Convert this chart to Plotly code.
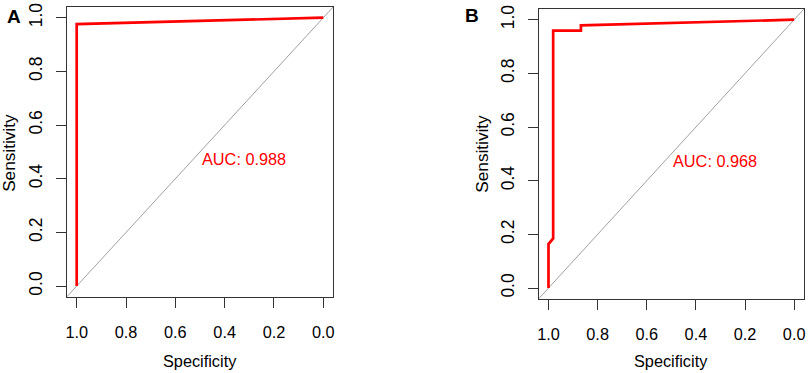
import plotly.graph_objects as go

# ---- data ----
spec_a = [1.0, 1.0, 0.0]
sens_a = [0.0, 0.976, 1.0]
spec_b = [1.0, 1.0, 0.981, 0.981, 0.868, 0.868, 0.0]
sens_b = [0.0, 0.164, 0.185, 0.959, 0.959, 0.979, 1.0]
auc_labels = ["AUC: 0.988", "AUC: 0.968"]
panel_labels = ["A", "B"]
tick_vals = [0.0, 0.2, 0.4, 0.6, 0.8, 1.0]
tick_text = ["0.0", "0.2", "0.4", "0.6", "0.8", "1.0"]
diag_x = [1.04, -0.04]

W, H = 809, 373
FONT = "Liberation Sans, Arial, sans-serif"
AX = "#333333"

fig = go.Figure()

for i, (sx, sy) in enumerate([(spec_a, sens_a), (spec_b, sens_b)]):
    xa = "x" if i == 0 else "x2"
    ya = "y" if i == 0 else "y2"
    fig.add_trace(go.Scatter(x=diag_x, y=[1 - v for v in diag_x], mode="lines",
                             line=dict(color="#a0a0a0", width=1), xaxis=xa, yaxis=ya,
                             showlegend=False, hoverinfo="skip"))
    fig.add_trace(go.Scatter(x=sx, y=sy, mode="lines",
                             line=dict(color="#ff0000", width=2.7), xaxis=xa, yaxis=ya,
                             showlegend=False))

def px_x(p):
    return p / W

def px_y(p):
    return 1 - p / H

def axis_common(fs):
    return dict(
        tickmode="array", tickvals=tick_vals, ticktext=tick_text,
        ticks="outside", ticklen=10, tickwidth=1, tickcolor=AX,
        showline=True, linecolor=AX, linewidth=1, mirror=True,
        showgrid=False, zeroline=False,
        tickfont=dict(family=FONT, size=fs, color="#000000"),
    )

fig.update_layout(
    width=W, height=H,
    margin=dict(l=0, r=0, t=0, b=0),
    paper_bgcolor="white", plot_bgcolor="white",
    xaxis=dict(domain=[px_x(66), px_x(333)], range=[1.04, -0.04], anchor="y",
               ticklabelstandoff=11, **axis_common(16.3)),
    yaxis=dict(domain=[px_y(296), px_y(3)], range=[-0.04, 1.04], anchor="x",
               tickangle=-90, ticklabelstandoff=7, **axis_common(17.5)),
    xaxis2=dict(domain=[px_x(539), px_x(805)], range=[1.04, -0.04], anchor="y2",
                ticklabelstandoff=11, **axis_common(16.3)),
    yaxis2=dict(domain=[px_y(298), px_y(5)], range=[-0.04, 1.04], anchor="x2",
                tickangle=-90, ticklabelstandoff=7, **axis_common(17.5)),
)

annotations = []
for i, txt in enumerate(auc_labels):
    annotations.append(dict(x=0.5, y=0.474, xref="x" if i == 0 else "x2",
                            yref="y" if i == 0 else "y2", text=txt, showarrow=False,
                            xanchor="left", yanchor="middle",
                            font=dict(family=FONT, size=16.3, color="#ff0000")))
for lab, cx, cy in zip(panel_labels, [13.5, 472], [13, 11.5]):
    annotations.append(dict(x=px_x(cx), y=px_y(cy), xref="paper", yref="paper",
                            text="<b>" + lab + "</b>", showarrow=False,
                            xanchor="center", yanchor="middle",
                            font=dict(family=FONT, size=19, color="#000000")))
for cx in [199.5, 672]:
    annotations.append(dict(x=px_x(cx), y=px_y(361), xref="paper", yref="paper",
                            text="Specificity", showarrow=False,
                            xanchor="center", yanchor="middle",
                            font=dict(family=FONT, size=16.3, color="#000000")))
for cx, cy in [(8, 150.5), (482, 151.5)]:
    annotations.append(dict(x=px_x(cx), y=px_y(cy), xref="paper", yref="paper",
                            text="Sensitivity", showarrow=False, textangle=-90,
                            xanchor="center", yanchor="middle",
                            font=dict(family=FONT, size=17.2, color="#000000")))
fig.update_layout(annotations=annotations)

fig.write_html("out.html", config={"displayModeBar": False},
               post_script="document.body.style.margin='0';document.body.style.overflow='hidden';")
